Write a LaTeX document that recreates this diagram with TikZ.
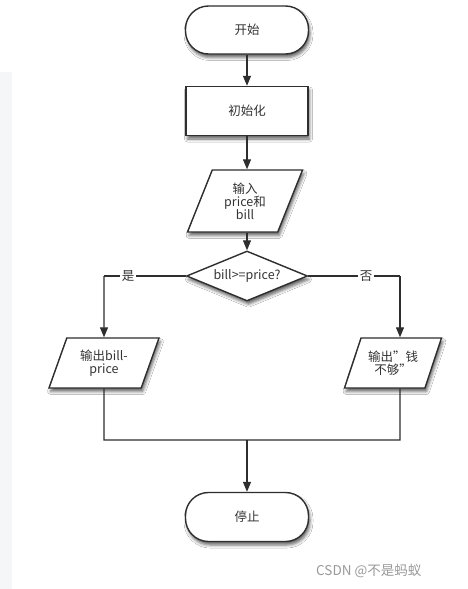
\documentclass[tikz,border=0pt]{standalone}
\usepackage{fontspec}
\setmainfont{Noto Sans CJK SC}
\usetikzlibrary{shapes.geometric,arrows.meta,shadows.blur}
\definecolor{ln}{HTML}{2E2E2E}
\definecolor{txt}{HTML}{333333}
\definecolor{strip}{HTML}{F5F6F8}
\definecolor{wmark}{HTML}{9A9A9A}
\begin{document}
\begin{tikzpicture}[x=1pt,y=-1pt,
  base/.style={draw=ln, line width=1.4pt, fill=white, text=txt,
    font=\fontsize{12.5}{13}\selectfont, align=center, inner sep=0pt,
    blur shadow={shadow xshift=1.5pt, shadow yshift=-3.5pt, shadow blur radius=3pt, shadow opacity=60}},
  term/.style={base, rectangle, rounded corners=23pt, minimum width=123pt, minimum height=48pt},
  proc/.style={base, rectangle, minimum width=122pt, minimum height=49pt},
  io/.style={base, trapezium, trapezium left angle=56, trapezium right angle=124,
    trapezium stretches body, minimum width=#1, minimum height=50pt},
  dec/.style={base, diamond, aspect=2.4, minimum width=121pt, minimum height=50pt},
  conn/.style={draw=ln, line width=1.2pt},
  arr/.style={conn, -{Triangle[length=10pt,width=8pt]}},
  lab/.style={fill=white, text=txt, font=\fontsize{12.5}{13}\selectfont, inner sep=2pt}
]
\useasboundingbox (0,0) rectangle (468,589);
\fill[white] (0,0) rectangle (468,589);
\fill[strip] (0,72) rectangle (12,589);

\node[term] (start) at (247,30) {开始};
\node[proc] (init) at (247,111) {初始化};
\node[io=115pt, minimum height=62pt] (input) at (245,201) {输入\\price和\\bill};
\node[dec] (check) at (247,276) {bill>=price?};
\node[io=110pt] (lout) at (104,363) {输出bill-\\price};
\node[io=97pt] (rout) at (393,363) {输出"钱\\不够"};
\node[term, minimum height=49pt] (stop) at (247,517) {停止};

\coordinate (cL) at (104,276);
\coordinate (cR) at (400,276);
\coordinate (mL) at (104,440);
\coordinate (mR) at (400,440);
\coordinate (mC) at (247,440);

\draw[arr] (start) -- (init);
\draw[arr] (init) -- (init |- input.north);
\draw[arr] (init |- input.south) -- (check);
\draw[conn] (check.west) -- (cL);
\draw[arr] (cL) -- (lout.north);
\draw[conn] (check.east) -- (cR);
\draw[arr] (cR) -- (cR |- rout.north);
\draw[conn] (lout.south) -- (mL) -- (mR) -- (mR |- rout.south);
\draw[arr] (mC) -- (stop);

\node[lab] (yes) at (128,276) {是};
\node[lab] (no) at (366,276) {否};

\node[anchor=west, text=wmark, font=\fontsize{13.5}{15}\selectfont, inner sep=0pt] (wm) at (316,571) {CSDN @不是蚂蚁};
\end{tikzpicture}
\end{document}
